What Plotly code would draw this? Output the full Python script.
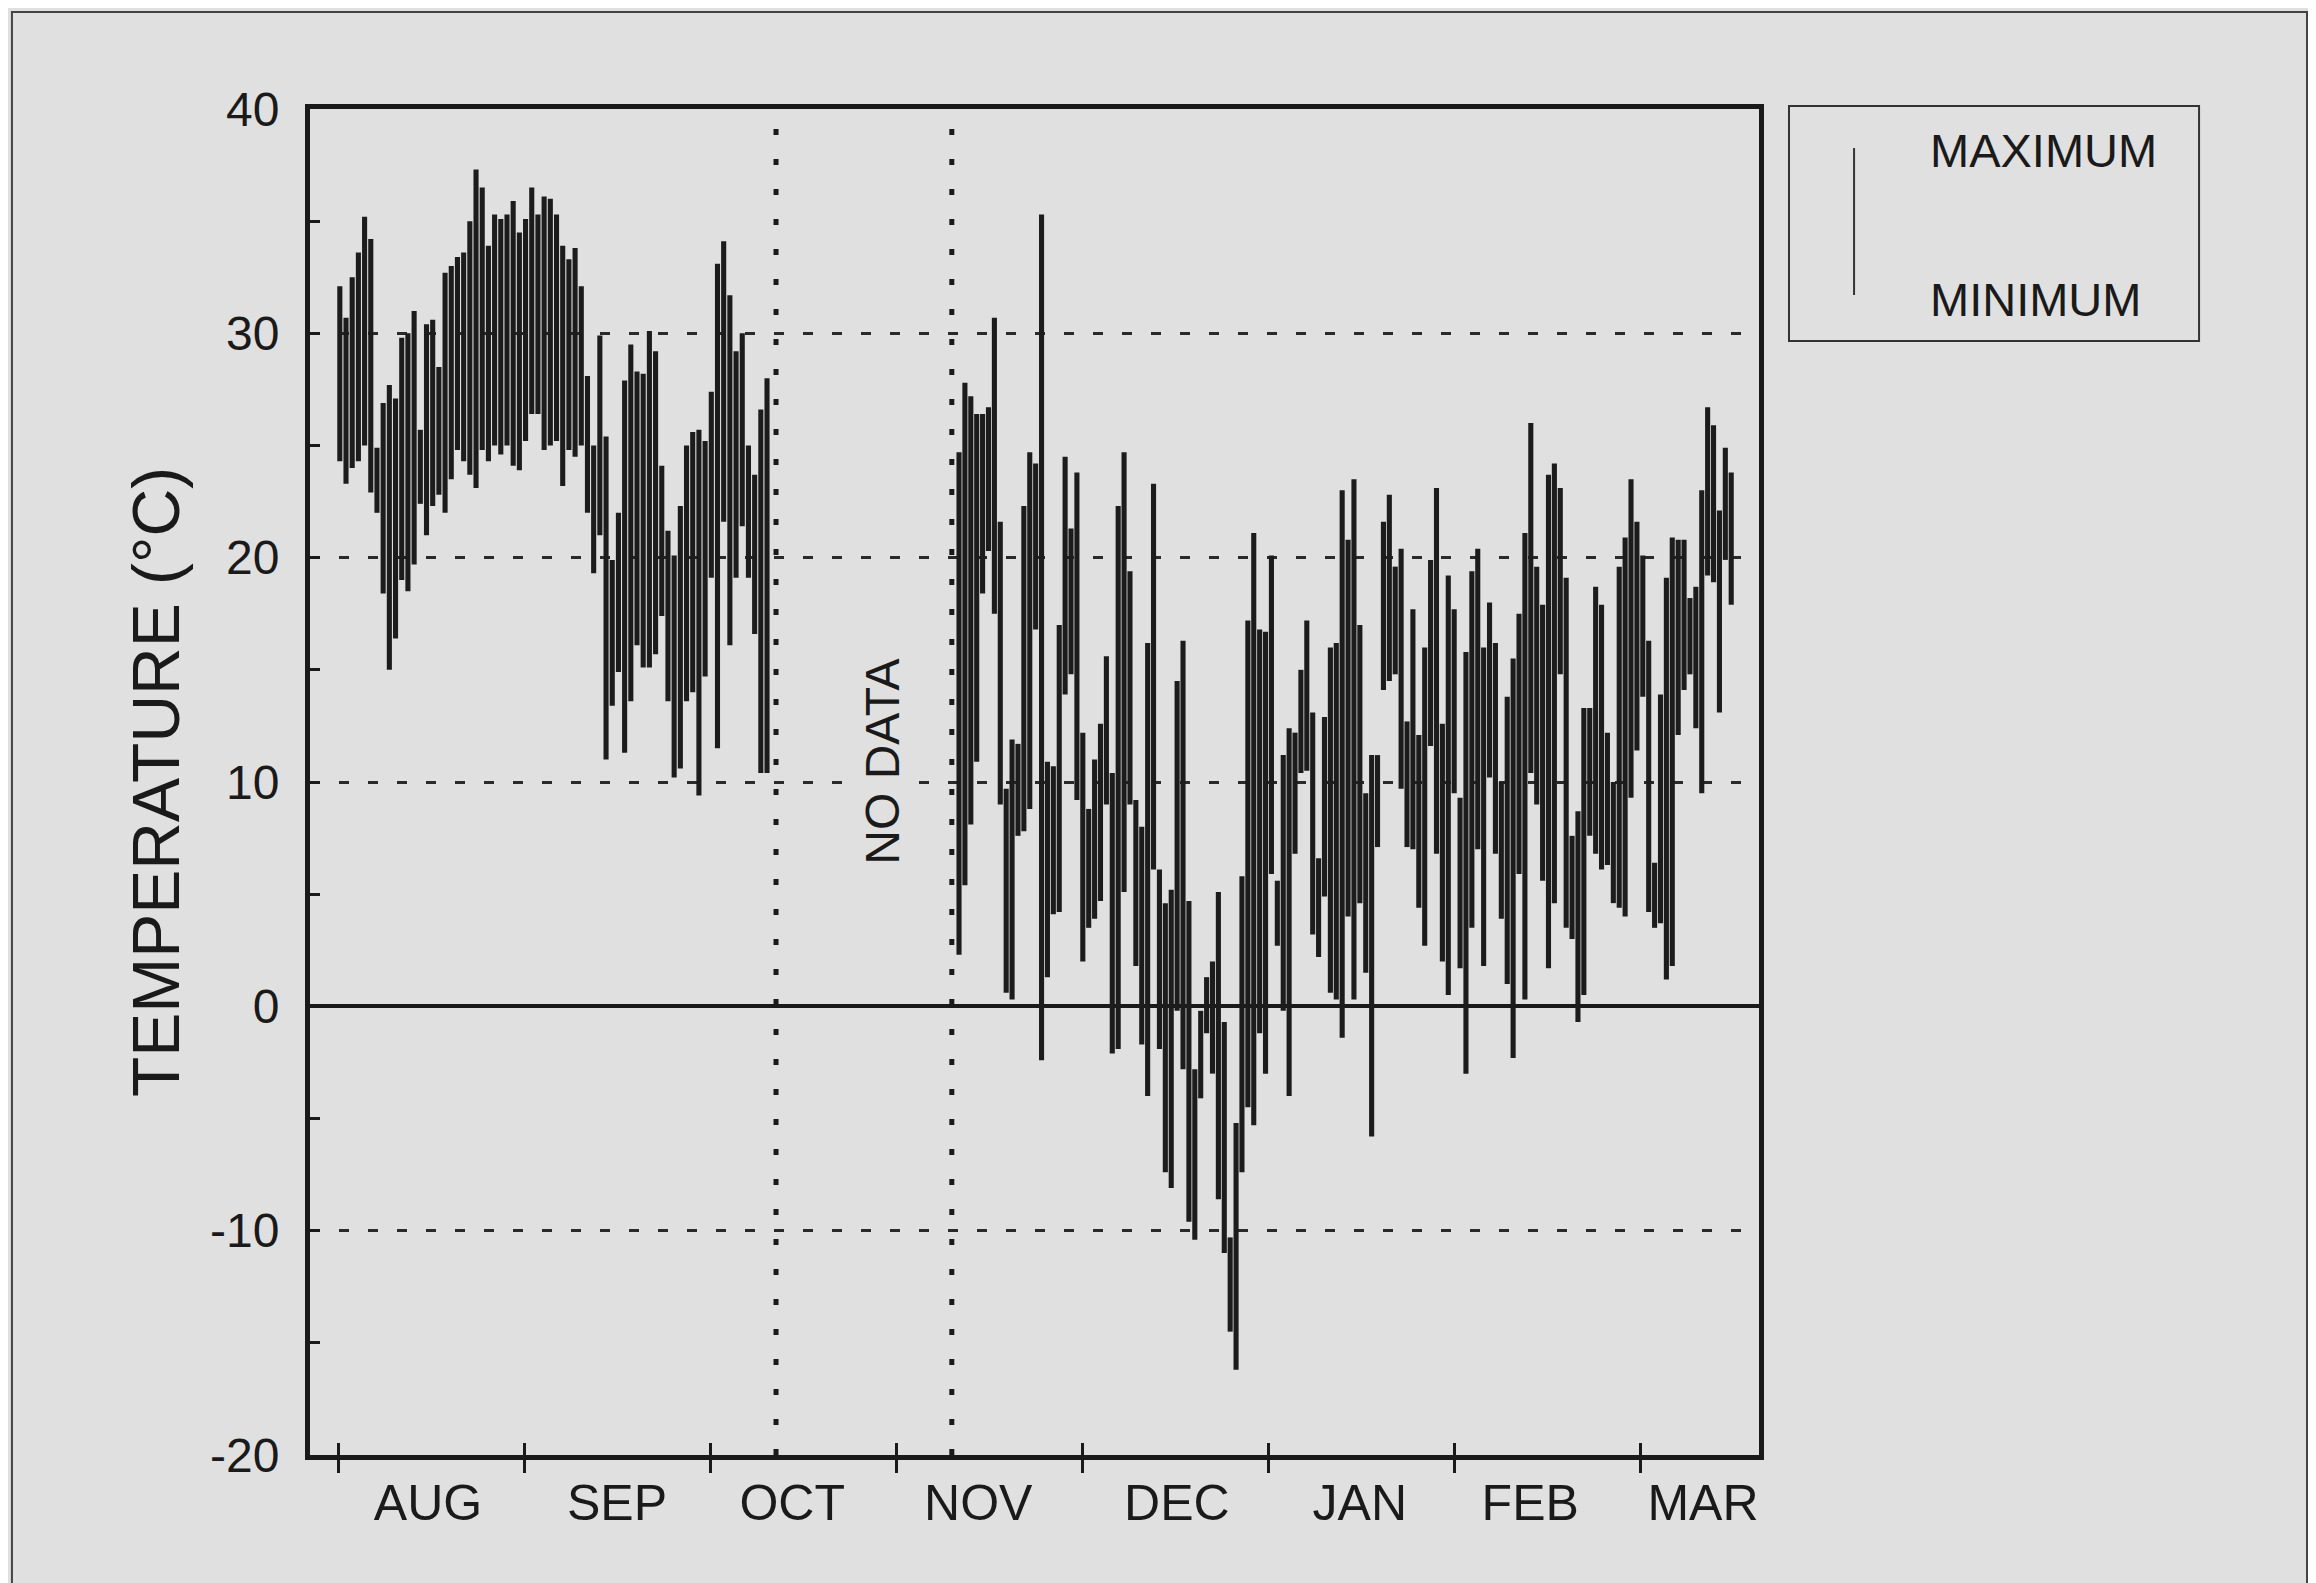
"""Daily maximum / minimum air temperature, Aug - Mar."""

import numpy as np
import plotly.graph_objects as go

# --- data ------------------------------------------------------------------
# x is in days after 1 August; each month drawn as a 31-day block
summer_max = [32.1, 30.7, 32.5, 33.6, 35.2, 34.2, 24.9, 26.9, 27.7, 27.1,
              29.8, 30.0, 31.0, 25.7, 30.4, 30.6, 28.5, 32.7, 33.0, 33.4,
              33.6, 35.0, 37.3, 36.5, 33.9, 35.3, 35.1, 35.3, 35.9, 34.5,
              35.1, 36.5, 35.3, 36.1, 36.0, 35.3, 33.9, 33.3, 33.8, 32.1,
              28.1, 25.0, 29.9, 25.4, 19.9, 22.0, 27.9, 29.5, 28.3, 28.2,
              30.1, 29.2, 24.1, 21.2, 20.1, 22.3, 25.0, 25.6, 25.7, 25.2,
              27.4, 33.1, 34.1, 31.7, 29.2, 30.0, 25.0, 23.7, 26.6, 28.0]
summer_min = [24.3, 23.3, 24.0, 24.3, 25.0, 22.9, 22.0, 18.4, 15.0, 16.4,
              19.0, 18.5, 19.7, 22.4, 21.0, 22.3, 22.8, 22.0, 23.5, 24.8,
              24.3, 23.7, 23.1, 24.8, 24.3, 25.0, 24.6, 25.0, 24.1, 23.9,
              25.2, 26.4, 26.4, 24.8, 25.0, 25.2, 23.2, 24.8, 24.5, 25.0,
              22.0, 19.3, 21.0, 11.0, 13.4, 14.9, 11.3, 13.6, 16.1, 15.1,
              15.1, 15.7, 17.4, 13.6, 10.2, 10.6, 13.6, 14.0, 9.4, 14.7,
              19.1, 11.5, 21.6, 16.1, 19.1, 21.4, 19.1, 16.6, 10.4, 10.4]

winter_max = [24.7, 27.8, 27.2, 26.4, 26.4, 26.7, 30.7, 21.6, 9.7, 11.9,
              11.7, 22.3, 24.7, 24.2, 35.3, 10.9, 10.7, 17.0, 24.5, 21.3,
              23.8, 12.2, 8.8, 11.0, 12.6,
              15.6, 10.4, 22.3, 24.7, 19.4, 9.2, 8.0, 16.2, 23.3, 6.1,
              4.6, 5.2, 14.5, 16.3, 4.7, -2.8, -0.2, 1.3, 2.0, 5.1,
              -0.7, -10.3, -5.2, 5.8, 17.2, 21.1, 16.8, 16.7, 20.1, 5.6,
              11.2, 12.4, 12.2, 15.0, 17.2, 13.1, 6.6, 12.9, 16.0, 16.2,
              23.0, 20.8, 23.5, 17.0, 9.5, 11.2, 11.2, 21.6, 22.8, 19.6,
              20.4, 12.7, 17.7, 12.1, 16.0, 19.9, 23.1, 12.6, 19.2, 17.7,
              9.3, 15.8, 19.4,
              20.4, 16.0, 18.0, 16.2, 10.0, 13.8, 15.5, 17.5, 21.1, 26.0,
              19.6, 17.9, 23.7, 24.2, 23.1, 19.1, 7.6, 8.7, 13.3, 13.3,
              18.7, 17.9, 12.2, 10.0, 19.6, 20.9, 23.5, 21.6, 20.1, 16.3,
              6.4, 13.9, 19.1, 20.9, 20.8, 20.8, 18.2, 18.7, 23.0, 26.7,
              25.9, 22.1, 24.9, 23.8]
winter_min = [2.3, 5.4, 8.1, 10.9, 18.4, 20.3, 17.5, 9.0, 0.6, 0.3,
              7.6, 7.8, 8.8, 16.8, -2.4, 1.3, 4.1, 4.2, 13.9, 14.8,
              9.2, 2.0, 3.5, 3.9, 4.7,
              9.0, -2.1, -1.9, 5.1, 9.0, 1.8, -1.7, -4.0, 6.1, -1.9,
              -7.4, -8.1, -0.2, -2.8, -9.6, -10.4, -4.1, -1.2, -3.0, -8.6,
              -11.0, -14.5, -16.2, -7.4, -4.5, -5.3, -1.2, -3.0, 5.9, 2.7,
              -0.2, -4.0, 6.8, 10.4, 10.5, 3.2, 2.2, 4.9, 0.6, 0.3,
              -1.4, 4.0, 0.3, 4.6, 1.5, -5.8, 7.1, 14.1, 14.5, 14.8,
              9.7, 7.1, 7.0, 4.4, 2.7, 11.6, 6.8, 2.0, 0.5, 9.5,
              1.7, -3.0, 3.5,
              7.0, 1.8, 10.2, 6.8, 3.9, 1.0, -2.3, 5.9, 0.3, 10.4,
              9.0, 5.6, 1.7, 4.6, 14.8, 3.5, 3.0, -0.7, 0.5, 7.6,
              6.8, 6.1, 6.3, 4.6, 4.4, 4.0, 9.3, 11.4, 13.8, 4.2,
              3.5, 3.7, 1.2, 1.8, 12.1, 14.1, 14.8, 12.4, 9.5, 19.2,
              18.9, 13.1, 19.9, 17.9]

summer_span = (0.3, 71.5)      # first / last day recorded before the gap
winter_span = (103.5, 232.2)   # first / last day recorded after the gap
gap_edges = [73.0, 102.3]      # dotted lines bounding the missing record

month_starts = [0, 31, 62, 93, 124, 155, 186, 217]
month_labels = ["AUG", "SEP", "OCT", "NOV", "DEC", "JAN", "FEB", "MAR"]
month_label_at = [15, 46.5, 75.7, 106.7, 139.8, 170.3, 198.7, 227.5]

y_ticks = [-20, -10, 0, 10, 20, 30, 40]
y_tick_text = ["-20", "-10", "0", "10", "20", "30", "40"]

FONT = "Liberation Sans, Arial, Helvetica, sans-serif"
INK = "#1a1a1a"
PAPER = "#e0e0e0"

days = np.concatenate([
    np.linspace(*summer_span, len(summer_max)),
    np.linspace(*winter_span, len(winter_max)),
])
tmax = np.array(summer_max + winter_max)
tmin = np.array(summer_min + winter_min)

fig = go.Figure()
fig.add_trace(go.Bar(
    x=days, y=tmax - tmin, base=tmin, width=0.85,
    marker=dict(color="#1c1c1c", line=dict(width=0)),
    customdata=np.stack([tmax, tmin], axis=1),
    hovertemplate="max %{customdata[0]} °C<br>min %{customdata[1]} °C<extra></extra>",
    showlegend=False,
))
# carrier for the month-boundary ticks drawn inside the frame
fig.add_trace(go.Scatter(x=[month_starts[0]], y=[None], xaxis="x2",
                         showlegend=False, hoverinfo="skip"))

for x in gap_edges:
    fig.add_vline(x=x, line=dict(color=INK, width=5, dash="6px,24px"))

fig.add_annotation(x=90.8, y=10.9, text="NO DATA", textangle=-90, showarrow=False,
                   bgcolor=PAPER, font=dict(family=FONT, size=48, color=INK))

# legend box
fig.add_shape(type="rect", xref="paper", yref="paper", x0=1.0207, x1=1.3037,
              y0=0.8276, y1=1.0022, line=dict(color="#333", width=2))
fig.add_shape(type="line", xref="paper", yref="paper", x0=1.0656, x1=1.0656,
              y0=0.8618, y1=0.971, line=dict(color="#333", width=2))
for txt, yy in [("MAXIMUM", 0.9688), ("MINIMUM", 0.8581)]:
    fig.add_annotation(xref="paper", yref="paper", x=1.1166, y=yy, text=txt,
                       xanchor="left", yanchor="middle", showarrow=False,
                       font=dict(family=FONT, size=47, color=INK))

# page border of the scanned figure
fig.add_shape(type="rect", xref="paper", yref="paper", x0=-0.2057, x1=1.3782,
              y0=-0.2, y1=1.072, line=dict(color="#444", width=2))

xrange = [-4.67, 236.83]
fig.update_layout(
    width=2316, height=1583,
    margin=dict(l=302, r=565, t=101, b=136),
    paper_bgcolor=PAPER, plot_bgcolor=PAPER,
    font=dict(family=FONT, color=INK),
    barmode="overlay",
    xaxis=dict(
        range=xrange, tickmode="array", tickvals=month_label_at, ticktext=month_labels,
        ticks="", ticklabelstandoff=0, tickfont=dict(size=50),
        minor=dict(tickmode="array", tickvals=month_starts, ticks="outside",
                   ticklen=13, tickwidth=3, tickcolor=INK, showgrid=False),
        showgrid=False, zeroline=False,
        showline=True, linewidth=5, linecolor=INK, mirror=True,
    ),
    xaxis2=dict(
        range=xrange, overlaying="x", anchor="y", side="bottom",
        tickmode="array", tickvals=month_starts, ticks="inside", ticklen=12,
        tickwidth=3, tickcolor=INK, showticklabels=False,
        showgrid=False, zeroline=False, showline=False,
    ),
    yaxis=dict(
        range=[-20, 40], tickmode="array", tickvals=y_ticks, ticktext=y_tick_text,
        ticks="inside", ticklen=10, tickwidth=3, tickcolor=INK,
        minor=dict(dtick=5, ticks="inside", ticklen=10, tickwidth=3, tickcolor=INK),
        tickfont=dict(size=48), ticklabelstandoff=16,
        showgrid=True, gridcolor="#2a2a2a", gridwidth=3, griddash="10px,19px",
        zeroline=True, zerolinecolor=INK, zerolinewidth=4,
        showline=True, linewidth=5, linecolor=INK, mirror=True,
        title=dict(text="TEMPERATURE (°C)", font=dict(size=66), standoff=10),
    ),
)

fig.write_html("out.html")
